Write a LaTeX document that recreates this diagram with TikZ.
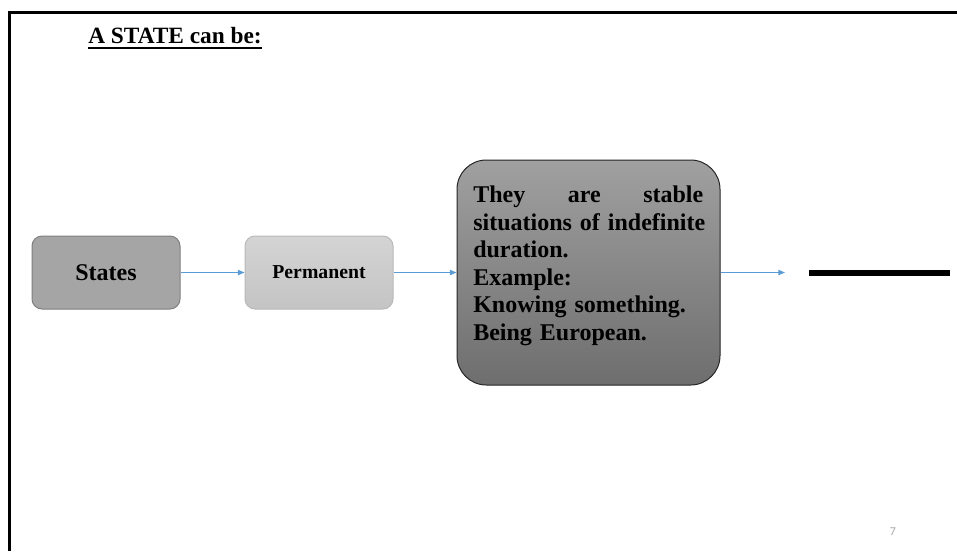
\documentclass[tikz,border=0pt]{standalone}
\usepackage{fontspec}
\setmainfont{Liberation Serif}
\newfontfamily\numfont{Carlito}
\usetikzlibrary{arrows.meta}

\newcommand{\ulinetext}[1]{\setbox0\hbox{#1}\rlap{\rule[-4.5pt]{\wd0}{1.3pt}}\box0}

\definecolor{linkblue}{RGB}{91,155,213}
\definecolor{statesgray}{RGB}{165,165,165}
\definecolor{statesedge}{RGB}{128,128,128}
\definecolor{permtop}{RGB}{212,212,212}
\definecolor{permbot}{RGB}{196,196,196}
\definecolor{permedge}{RGB}{185,185,185}
\definecolor{infotop}{RGB}{160,160,160}
\definecolor{infobot}{RGB}{110,110,110}
\definecolor{numgray}{RGB}{166,166,166}

\tikzset{
  flowbox/.style={rounded corners=7.5pt, line width=0.75pt, inner sep=0pt,
    font=\bfseries},
  link/.style={draw=linkblue, line width=0.75pt,
    -{Triangle[length=5pt,width=4pt]}},
}

\begin{document}
\begin{tikzpicture}[x=0.75pt,y=0.75pt,yscale=-1,xscale=1]
\useasboundingbox (0,0) rectangle (957,551);

%Straight Lines [id:frame]
\draw [line width=2.25pt] (9,551) -- (9,12) -- (957,12) ;

% Text Node
\node [anchor=base west, inner sep=0pt, font=\fontsize{17.5}{21}\selectfont\bfseries] (title) at (88,43) {\ulinetext{A STATE can be:}};

%Shape: Rounded Rect [id:states]
\node [flowbox, draw=statesedge, fill=statesgray, minimum width=111pt, minimum height=54.75pt, font=\fontsize{18}{21}\selectfont\bfseries] (states) at (106,272.5) {States};
%Shape: Rounded Rect [id:perm]
\node [flowbox, draw=permedge, top color=permtop, bottom color=permbot, minimum width=111pt, minimum height=54.75pt, font=\fontsize{14.8}{18}\selectfont\bfseries] (perm) at (319,272.5) {Permanent};
%Shape: Rounded Rect [id:info]
\node [flowbox, rounded corners=22pt, draw=black!85, top color=infotop, bottom color=infobot, minimum width=197.25pt, minimum height=168.75pt] (info) at (588.5,272.5) {};
% Text Node
\node [anchor=north west, inner sep=0pt, text width=172.5pt, align=left, font=\fontsize{18}{20.6}\selectfont\bfseries] (infotxt) at (473,186) {\hbox to \linewidth{They\hfill are\hfill stable}\\ \mbox{situations of indefinite}\\ duration.\\ Example:\\ \mbox{Knowing something.}\\ \mbox{Being European.}};

%Straight Lines [id:links]
\draw [link] (states) -- (perm) ;
\draw [link] (perm) -- (info) ;
\coordinate (next) at (785,272.5) ;
\draw [link] (info) -- (next) ;

%Straight Lines [id:bar]
\draw [line width=4.5pt] (809,272.5) -- (950,272.5) ;

% Text Node
\node [inner sep=0pt, text=numgray, font=\numfont\fontsize{9}{10}\selectfont] (pageno) at (893,532) {7};

\end{tikzpicture}
\end{document}
